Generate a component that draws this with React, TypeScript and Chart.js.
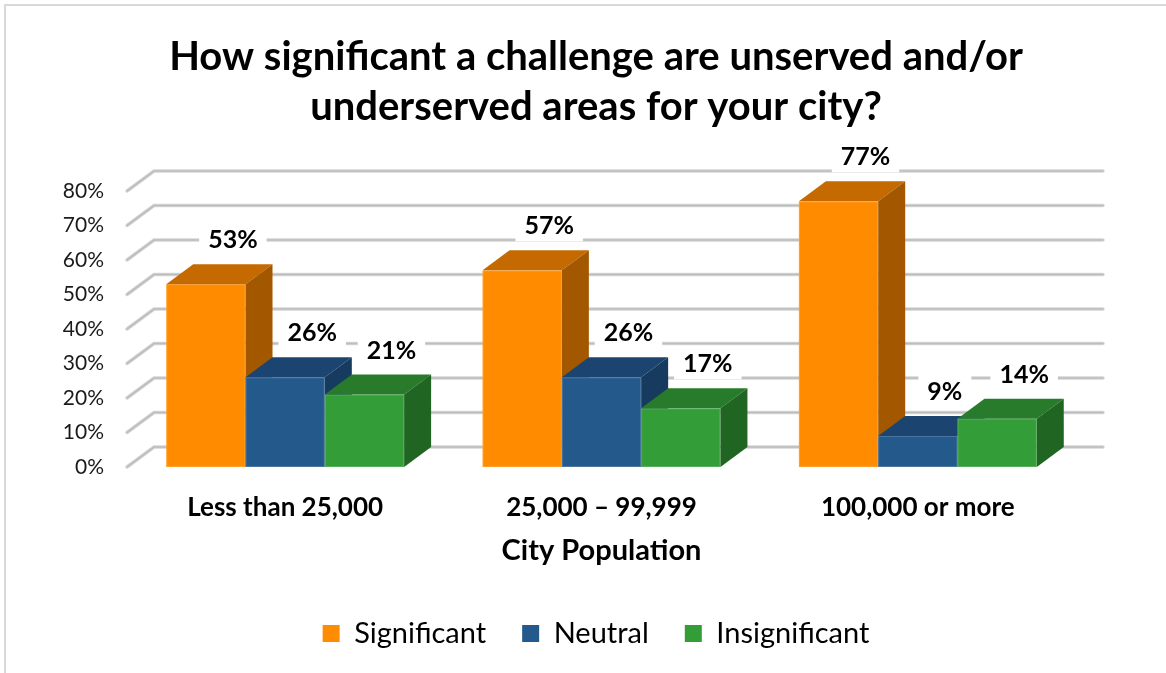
import React, { useEffect, useRef } from 'react';
import { Chart, registerables } from 'chart.js';

Chart.register(...registerables);

// ---- data ----
const categories = ['Less than 25,000', '25,000 – 99,999', '100,000 or more'];
const seriesNames = ['Significant', 'Neutral', 'Insignificant'];
const significant = [53, 57, 77];
const neutral = [26, 26, 9];
const insignificant = [21, 17, 14];
const titleLines = ['How significant a challenge are unserved and/or', 'underserved areas for your city?'];
const xAxisTitle = 'City Population';
const yMin = 0;
const yMax = 80;
const yStep = 10;

// ---- styles ----
const frontColors = ['#FF8C00', '#245A8B', '#339E37'];
const topColors = ['#C46A00', '#1C4470', '#277B2A'];
const sideColors = ['#A35800', '#173A5F', '#206522'];
const DX = 27;
const DY = -20;
const FONT = 'Lato';

const threeDPlugin = {
  id: 'threeD',
  beforeDraw(chart: any) {
    const { ctx, width, height } = chart;
    ctx.save();
    ctx.fillStyle = '#ffffff';
    ctx.fillRect(0, 0, width, height);
    ctx.strokeStyle = '#d9d9d9';
    ctx.lineWidth = 2;
    ctx.strokeRect(5, 5, 1400, 900);
    ctx.restore();
  },
  beforeDatasetsDraw(chart: any) {
    const { ctx, chartArea: a, scales } = chart;
    const y = scales.y;
    ctx.save();
    ctx.lineCap = 'round';
    y.ticks.forEach((t: any) => {
      const py = y.getPixelForValue(t.value);
      ctx.beginPath();
      ctx.moveTo(a.left, py);
      ctx.lineTo(a.left + DX, py + DY);
      ctx.lineTo(a.right + DX, py + DY);
      ctx.strokeStyle = '#d6d6d6';
      ctx.lineWidth = 3.5;
      ctx.stroke();
      ctx.strokeStyle = '#bdbdbd';
      ctx.lineWidth = 1.6;
      ctx.stroke();
    });
    ctx.restore();
  },
  beforeDatasetDraw() {
    return false;
  },
  afterDatasetsDraw(chart: any) {
    const { ctx } = chart;
    const n = chart.data.datasets.length;
    const count = chart.data.labels.length;
    ctx.save();
    for (let j = 0; j < count; j++) {
      for (let i = 0; i < n; i++) {
        const el: any = chart.getDatasetMeta(i).data[j];
        if (!el) continue;
        const L = el.x - el.width / 2;
        const R = el.x + el.width / 2;
        const T = el.y;
        const B = el.base;
        ctx.fillStyle = frontColors[i];
        ctx.fillRect(L, T, R - L, B - T);
        ctx.fillStyle = topColors[i];
        ctx.beginPath();
        ctx.moveTo(L, T);
        ctx.lineTo(R, T);
        ctx.lineTo(R + DX, T + DY);
        ctx.lineTo(L + DX, T + DY);
        ctx.closePath();
        ctx.fill();
        ctx.fillStyle = sideColors[i];
        ctx.beginPath();
        ctx.moveTo(R, T);
        ctx.lineTo(R + DX, T + DY);
        ctx.lineTo(R + DX, B + DY);
        ctx.lineTo(R, B);
        ctx.closePath();
        ctx.fill();
        ctx.strokeStyle = 'rgba(255,255,255,0.18)';
        ctx.lineWidth = 1;
        ctx.strokeRect(L + 0.5, T + 0.5, R - L - 1, B - T - 1);
      }
    }
    // data labels
    ctx.font = `bold 25px ${FONT}`;
    ctx.textAlign = 'center';
    ctx.textBaseline = 'middle';
    for (let i = 0; i < n; i++) {
      const ds = chart.data.datasets[i];
      chart.getDatasetMeta(i).data.forEach((el: any, j: number) => {
        const text = `${ds.data[j]}%`;
        const cx = el.x + DX;
        const cy = el.y + DY - 25;
        const w = ctx.measureText(text).width;
        ctx.fillStyle = '#ffffff';
        ctx.fillRect(cx - w / 2 - 9, cy - 16, w + 18, 32);
        ctx.fillStyle = '#000000';
        ctx.fillText(text, cx, cy + 1);
      });
    }
    ctx.restore();
  },
};

export default function App() {
  const ref = useRef<HTMLCanvasElement>(null);
  useEffect(() => {
    if (!ref.current) return;
    const chart = new Chart(ref.current, {
      type: 'bar',
      data: {
        labels: categories,
        datasets: [
          { label: seriesNames[0], data: significant, backgroundColor: frontColors[0], borderWidth: 0 },
          { label: seriesNames[1], data: neutral, backgroundColor: frontColors[1], borderWidth: 0 },
          { label: seriesNames[2], data: insignificant, backgroundColor: frontColors[2], borderWidth: 0 },
        ],
      },
      options: {
        responsive: false,
        animation: false,
        devicePixelRatio: 1,
        datasets: { bar: { categoryPercentage: 0.752, barPercentage: 1 } },
        layout: { padding: { top: 0, left: 0, right: 0, bottom: 15 } },
        plugins: {
          tooltip: { enabled: false },
          title: {
            display: true,
            text: titleLines,
            color: '#000000',
            font: { family: FONT, size: 40, weight: 'bold', lineHeight: 50 / 40 },
            padding: { top: 32, bottom: 59 },
          },
          legend: {
            display: true,
            position: 'bottom',
            labels: {
              color: '#000000',
              font: { family: FONT, size: 29 },
              boxWidth: 17,
              boxHeight: 17,
              padding: 36,
            },
          },
        },
        scales: {
          x: {
            grid: { display: false, drawTicks: false },
            border: { display: false },
            ticks: {
              color: '#000000',
              padding: 25,
              font: { family: FONT, size: 26, weight: 'bold', lineHeight: 1.2 },
            },
            title: {
              display: true,
              text: xAxisTitle,
              color: '#000000',
              font: { family: FONT, size: 29, weight: 'bold', lineHeight: 1.2 },
              padding: { top: 0, bottom: 15 },
            },
            afterFit: (s: any) => {
              s.height = 116;
            },
          },
          y: {
            min: yMin,
            max: yMax,
            grid: { display: false, drawTicks: false },
            border: { display: false },
            ticks: {
              stepSize: yStep,
              padding: 23,
              color: '#1a1a1a',
              font: { family: FONT, size: 21 },
              callback: (v: any) => `${v}%`,
            },
            afterFit: (s: any) => {
              s.width = 127;
            },
          },
          yR: {
            type: 'linear',
            position: 'right',
            display: true,
            grid: { display: false, drawTicks: false },
            border: { display: false },
            ticks: { display: false },
            afterFit: (s: any) => {
              s.width = 1192 - 1076;
            },
          },
        },
      },
      plugins: [threeDPlugin],
    } as any);
    return () => chart.destroy();
  }, []);
  return (
    <div
      style={{
        position: 'fixed',
        left: 0,
        top: 0,
        width: 1166,
        height: 673,
        overflow: 'hidden',
        background: '#ffffff',
      }}
    >
      <canvas ref={ref} width={1192} height={673} style={{ display: 'block', width: 1192, height: 673 }} />
    </div>
  );
}
